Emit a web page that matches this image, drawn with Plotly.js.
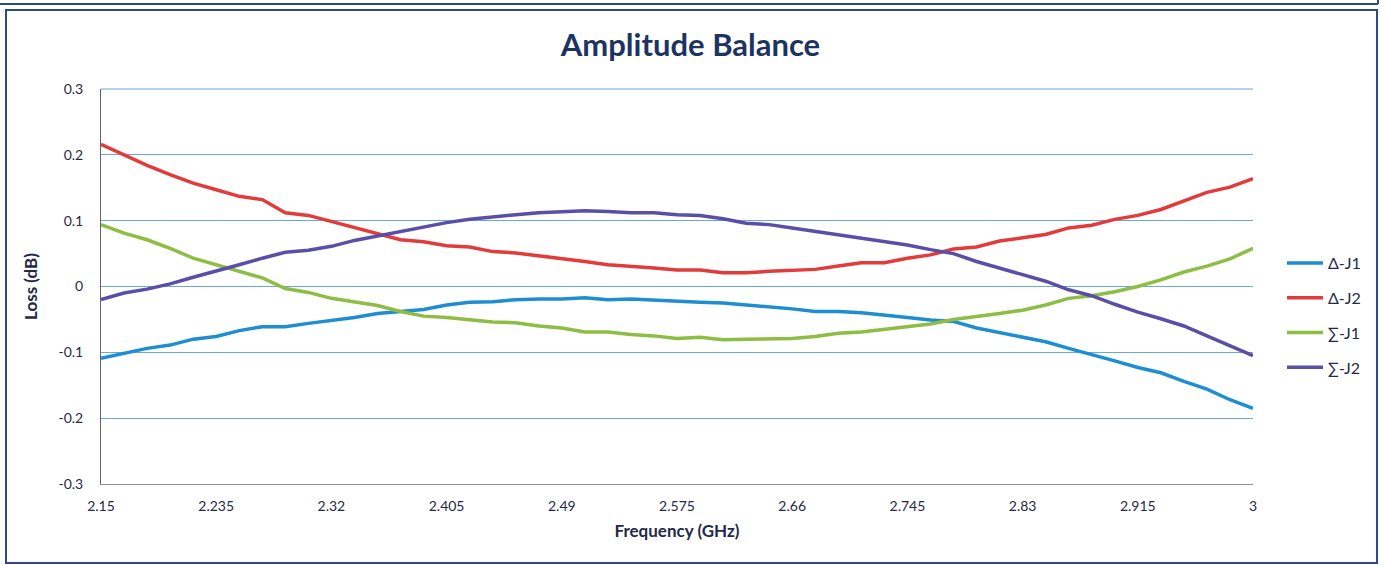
<!DOCTYPE html>
<html>
<head>
<meta charset="utf-8">
<script src="https://cdn.plot.ly/plotly-3.0.1.min.js"></script>
<style>
  html, body { margin: 0; padding: 0; background: #ffffff; }
  #chart { width: 1381px; height: 565px; }
</style>
</head>
<body>
<div id="chart"></div>
<script>
// ---- Data ----
const freq = [2.150, 2.167, 2.184, 2.201, 2.218, 2.235, 2.252, 2.269, 2.286, 2.303,
              2.320, 2.337, 2.354, 2.371, 2.388, 2.405, 2.422, 2.439, 2.456, 2.473,
              2.490, 2.507, 2.524, 2.541, 2.558, 2.575, 2.592, 2.609, 2.626, 2.643,
              2.660, 2.677, 2.694, 2.711, 2.728, 2.745, 2.762, 2.779, 2.796, 2.813,
              2.830, 2.847, 2.864, 2.881, 2.898, 2.915, 2.932, 2.949, 2.966, 2.983, 3.000];

const deltaJ1 = [-0.109, -0.101, -0.094, -0.089, -0.080, -0.076, -0.067, -0.061, -0.061, -0.056,
                 -0.052, -0.047, -0.041, -0.038, -0.035, -0.028, -0.024, -0.023, -0.020, -0.019,
                 -0.019, -0.017, -0.020, -0.019, -0.021, -0.023, -0.024, -0.025, -0.028, -0.030,
                 -0.034, -0.038, -0.038, -0.040, -0.043, -0.047, -0.051, -0.053, -0.063, -0.070,
                 -0.076, -0.084, -0.094, -0.103, -0.113, -0.123, -0.131, -0.144, -0.156, -0.172, -0.185];

const deltaJ2 = [0.216, 0.200, 0.184, 0.170, 0.157, 0.147, 0.137, 0.132, 0.112, 0.108,
                 0.099, 0.089, 0.081, 0.071, 0.068, 0.062, 0.060, 0.053, 0.051, 0.047,
                 0.043, 0.038, 0.033, 0.031, 0.028, 0.025, 0.025, 0.021, 0.021, 0.023,
                 0.025, 0.026, 0.031, 0.036, 0.036, 0.043, 0.048, 0.057, 0.060, 0.069,
                 0.074, 0.079, 0.089, 0.093, 0.102, 0.108, 0.117, 0.130, 0.143, 0.151, 0.164];

const sigmaJ1 = [0.094, 0.081, 0.071, 0.058, 0.043, 0.033, 0.023, 0.013, -0.003, -0.009,
                 -0.018, -0.024, -0.029, -0.038, -0.045, -0.047, -0.051, -0.054, -0.055, -0.060,
                 -0.063, -0.069, -0.069, -0.073, -0.075, -0.079, -0.077, -0.081, -0.080, -0.079,
                 -0.079, -0.076, -0.071, -0.069, -0.065, -0.061, -0.057, -0.050, -0.046, -0.041,
                 -0.036, -0.028, -0.018, -0.014, -0.008, 0.000, 0.010, 0.022, 0.031, 0.042, 0.058];

const sigmaJ2 = [-0.020, -0.010, -0.004, 0.004, 0.014, 0.023, 0.033, 0.043, 0.052, 0.055,
                 0.061, 0.070, 0.077, 0.084, 0.091, 0.097, 0.102, 0.106, 0.109, 0.112,
                 0.114, 0.115, 0.114, 0.112, 0.112, 0.109, 0.108, 0.103, 0.096, 0.094,
                 0.089, 0.084, 0.079, 0.074, 0.069, 0.063, 0.056, 0.050, 0.038, 0.028,
                 0.018, 0.008, -0.005, -0.014, -0.027, -0.039, -0.049, -0.060, -0.075, -0.090, -0.105];

const seriesNames = ['\u0394-J1', '\u0394-J2', '\u2211-J1', '\u2211-J2'];
const seriesColors = ['#1f8ed0', '#e23b3b', '#8dbd43', '#5a4fa6'];

const xTickVals = [2.15, 2.235, 2.32, 2.405, 2.49, 2.575, 2.66, 2.745, 2.83, 2.915, 3];
const xTickText = ['2.15', '2.235', '2.32', '2.405', '2.49', '2.575', '2.66', '2.745', '2.83', '2.915', '3'];
const yTickVals = [-0.3, -0.2, -0.1, 0, 0.1, 0.2, 0.3];
const yTickText = ['-0.3', '-0.2', '-0.1', '0', '0.1', '0.2', '0.3'];

// ---- Figure ----
const W = 1381, H = 565;
const M = {l: 101, r: 128, t: 89, b: 81};
const pw = W - M.l - M.r, ph = H - M.t - M.b;
const px2x = p => (p - M.l) / pw;
const py2y = p => (H - M.b - p) / ph;

const ys = [deltaJ1, deltaJ2, sigmaJ1, sigmaJ2];
const traces = ys.map((y, i) => ({
  type: 'scatter', mode: 'lines', x: freq, y: y,
  name: seriesNames[i], legendgroup: 'g' + i,
  line: {color: seriesColors[i], width: 3.5}
}));

const frameColor = '#2d4a86';
const txt = '#1f2a48';
const layout = {
  width: W, height: H,
  margin: M,
  paper_bgcolor: '#ffffff', plot_bgcolor: '#ffffff',
  font: {family: 'Lato, "Open Sans", sans-serif', color: txt, size: 14},
  title: {
    text: '<b>Amplitude Balance</b>',
    font: {family: 'Lato, "Open Sans", sans-serif', size: 31, color: '#1d3461'},
    x: 0.5, xref: 'container', xanchor: 'center',
    y: 1 - 45 / H, yref: 'container', yanchor: 'middle'
  },
  xaxis: {
    range: [2.15, 3], tickmode: 'array', tickvals: xTickVals, ticktext: xTickText,
    showgrid: false, zeroline: false, showline: true, linecolor: '#8a8f99', linewidth: 1,
    ticks: '', ticklabelstandoff: 9,
    tickfont: {size: 14, color: txt},
    title: {text: '<b>Frequency (GHz)</b>', font: {size: 17, color: txt}, standoff: 12}
  },
  yaxis: {
    range: [-0.3, 0.3], tickmode: 'array', tickvals: yTickVals, ticktext: yTickText,
    showgrid: true, gridcolor: '#6aa8d8', gridwidth: 1,
    zeroline: false, showline: true, linecolor: '#5f6470', linewidth: 1,
    ticks: '', ticklabelstandoff: 14,
    tickfont: {size: 14, color: txt},
    title: {text: '<b>Loss (dB)</b>', font: {size: 17, color: txt}, standoff: 16}
  },
  showlegend: true,
  legend: {
    x: px2x(1282), xanchor: 'left', y: py2y(246), yanchor: 'top',
    traceorder: 'grouped', tracegroupgap: 11, itemwidth: 36,
    font: {size: 16, color: txt}, bgcolor: 'rgba(0,0,0,0)', borderwidth: 0
  },
  shapes: [
    {type: 'line', xref: 'paper', yref: 'paper', x0: px2x(101), x1: px2x(1253), y0: 1, y1: 1,
     line: {color: '#6aa8d8', width: 1}},
    {type: 'rect', xref: 'paper', yref: 'paper',
     x0: px2x(6), x1: px2x(1377), y0: py2y(10), y1: py2y(563),
     line: {color: frameColor, width: 2}, layer: 'below'},
    {type: 'line', xref: 'paper', yref: 'paper',
     x0: px2x(0), x1: px2x(1378), y0: py2y(4), y1: py2y(4),
     line: {color: frameColor, width: 2}},
    {type: 'line', xref: 'paper', yref: 'paper',
     x0: px2x(1378), x1: px2x(1378), y0: py2y(0), y1: py2y(4),
     line: {color: frameColor, width: 2}}
  ]
};

Plotly.newPlot('chart', traces, layout, {displayModeBar: false, staticPlot: true});
</script>
</body>
</html>
